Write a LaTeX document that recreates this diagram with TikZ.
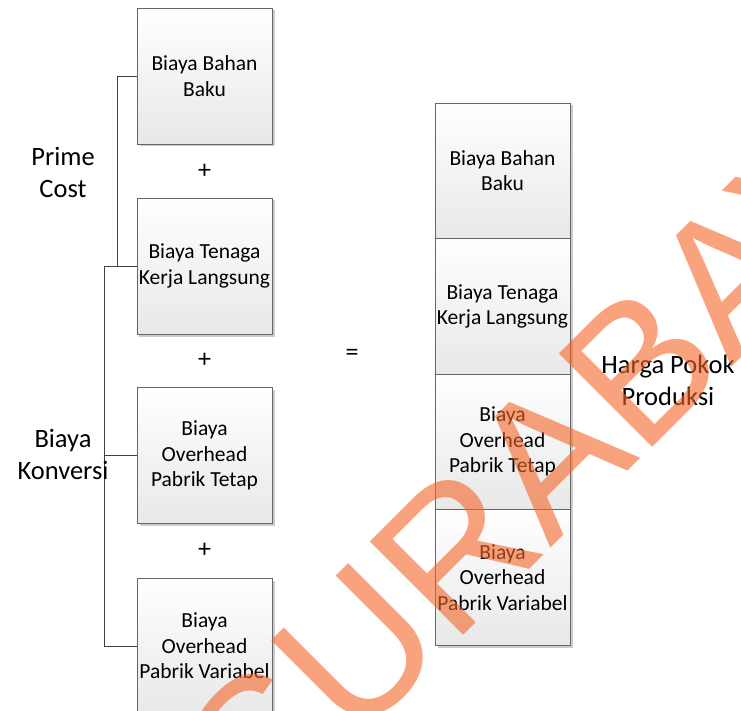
\documentclass[tikz,border=0pt]{standalone}
\usepackage{fontspec}
\setmainfont{Carlito}
\newfontfamily\wmfont{Liberation Sans}
\usepackage{xcolor}
\usetikzlibrary{calc, positioning, shadows}
\definecolor{wmorange}{RGB}{245,100,40}

\begin{document}
\begin{tikzpicture}[x=1pt, y=-1pt,
    kotak/.style={draw=black!60, line width=0.8pt, top color=white, bottom color=black!9,
      minimum width=135pt, minimum height=136pt, inner sep=2pt, outer sep=0pt, align=center,
      font=\fontsize{21.5}{25.5}\selectfont,
      drop shadow={shadow xshift=2.5pt, shadow yshift=-2.5pt, fill=black!20, opacity=1}},
    teks/.style={align=center, font=\fontsize{26.5}{32}\selectfont},
    ops/.style={font=\fontsize{26}{30}\selectfont},
    kurung/.style={draw=black!75, line width=0.8pt},
    watermark/.style={text=wmorange, text opacity=0.6, inner sep=0pt,
      font=\wmfont\fontsize{192}{194}\selectfont}]

    \useasboundingbox (0,0) rectangle (741,711);

    % komponen biaya (kiri)
    \node[kotak] (bb) at (204.5,76) {Biaya Bahan\\Baku};
    \node[kotak] (tk) at (204.5,266) {Biaya Tenaga\\Kerja Langsung};
    \node[kotak] (op) at (204.5,455.5) {Biaya\\Overhead\\Pabrik Tetap};
    \node[kotak] (ov) at (204.5,646) {Biaya\\Overhead\\Pabrik Variabel};

    % tanda tambah di antara kotak
    \foreach \a/\b [count=\i] in {bb/tk, tk/op, op/ov} {
        \node[ops] (plus\i) at ($(\a.south)!0.5!(\b.north)$) {+};
    }

    % kurung prime cost dan biaya konversi
    \draw[kurung] (bb.west) -- ++(-20,0) |- (tk.west);
    \draw[kurung] (tk.west) -- ++(-33,0) |- (ov.west);
    \draw[kurung] (op.west) -- ++(-33,0);
    \node[teks] (prime) at (63,172) {Prime\\Cost};
    \node[teks] (konversi) at (63,454) {Biaya\\Konversi};

    \node[ops] (sama) at (352,355) {=};

    % harga pokok produksi (kanan)
    \node[kotak, minimum height=135.5pt] (hbb) at (502.5,170.75) {Biaya Bahan\\Baku};
    \node[kotak, minimum height=135.5pt, below=0pt of hbb] (htk) {Biaya Tenaga\\Kerja Langsung};
    \node[kotak, minimum height=135.5pt, below=0pt of htk] (hop) {Biaya\\Overhead\\Pabrik Tetap};
    \node[kotak, minimum height=135.5pt, below=0pt of hop] (hov) {Biaya\\Overhead\\Pabrik Variabel};
    \node[teks] (hpp) at (668,380) {Harga Pokok\\Produksi};

    % watermark
    \begin{scope}
        \clip (0,0) rectangle (741,711);
        \node[watermark, rotate=45] (wm) at (577,429) {SURABAYA};
    \end{scope}
\end{tikzpicture}
\end{document}
